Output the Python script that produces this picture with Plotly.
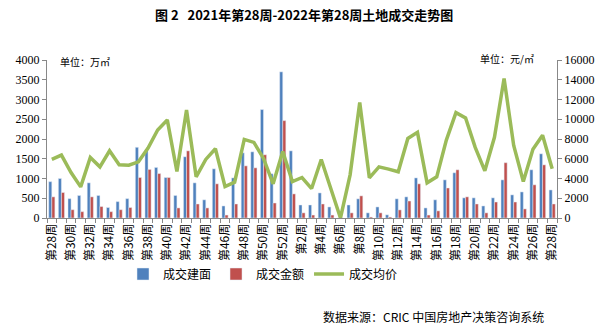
import plotly.graph_objects as go

weeks = [f"第{w}周" for w in range(28, 53)] + [f"第{w}周" for w in range(1, 29)]
area = [920, 1000, 490, 570, 890, 570, 265, 415, 490, 1790, 1735, 1280, 1025,
        570, 1550, 890, 460, 1245, 305, 1015, 1650, 1675, 2745, 1120, 3700,
        1700, 330, 330, 635, 280, 0, 330, 485, 130, 280, 80, 485, 535, 1015, 255,
        460, 965, 1145, 510, 510, 305, 510, 965, 585, 660, 1220, 1625, 710]
amount = [535, 645, 210, 160, 535, 290, 160, 210, 265, 1025, 1230, 1125, 1025,
          255, 1700, 355, 255, 865, 75, 355, 1320, 1270, 1600, 380, 2465,
          610, 130, 75, 355, 75, 0, 130, 560, 25, 130, 25, 205, 430, 865, 75,
          180, 760, 1220, 535, 355, 130, 405, 1400, 405, 230, 840, 1345, 355]
price = [5930, 6370, 4610, 3150, 6130, 5180, 6810, 5390, 5350, 5690, 7080, 8910, 9930,
         4710, 10940, 4170, 5930, 7010, 3190, 3630, 7960, 7660, 6030, 3460, 6740,
         3690, 4100, 2980, 5930, 3080, 0, 4370, 11690, 4070, 5180, 4950, 4680, 8060, 8670, 3560,
         4170, 7890, 10670, 10130, 7150, 4780, 8170, 14130, 7350, 3690, 6950, 8370, 4980]

x = list(range(len(weeks)))
tickvals = x[::2]
ticktext = weeks[::2]

cjk = "Noto Sans CJK SC"
num_font = dict(family="Liberation Serif", size=12, color="#000")

fig = go.Figure()
fig.add_trace(go.Bar(x=x, y=area, name="成交建面", marker_color="#4F81BD", yaxis="y"))
fig.add_trace(go.Bar(x=x, y=amount, name="成交金额", marker_color="#C0504D", yaxis="y"))
fig.add_trace(go.Scatter(x=x, y=price, name="成交均价", mode="lines",
                         line=dict(color="#9BBB59", width=3.5), yaxis="y2"))

W, H = 607, 327
l, r, t, b = 47, 50, 60, 109
pw, ph = W - l - r, H - t - b

fig.update_layout(
    width=W, height=H,
    margin=dict(l=l, r=r, t=t, b=b),
    paper_bgcolor="white", plot_bgcolor="white",
    barmode="group", bargap=0.36, bargroupgap=0.0,
    font=dict(family=cjk, size=12, color="#000"),
    showlegend=True,
    legend=dict(orientation="h", x=(263 - l) / pw, xanchor="center", y=(218 - 274) / ph,
                yanchor="middle", font=dict(family=cjk, size=12), traceorder="normal",
                tracegroupgap=0),
    xaxis=dict(range=[-0.5, len(weeks) - 0.5], tickvals=tickvals, ticktext=ticktext,
               tickangle=-90, ticks="", showline=True, linecolor="#888", linewidth=1,
               showgrid=False, zeroline=False, tickfont=dict(family=cjk, size=12),
               minor=dict(tickvals=[i - 0.5 for i in range(len(weeks) + 1)],
                          ticks="outside", ticklen=4, tickcolor="#888", showgrid=False)),
    yaxis=dict(range=[0, 4000], dtick=500, showline=True, linecolor="#888", linewidth=1,
               ticks="outside", ticklen=4, tickcolor="#888", showgrid=False, zeroline=False,
               tickfont=num_font, tickformat="d"),
    yaxis2=dict(range=[0, 16000], dtick=2000, overlaying="y", side="right",
                showline=True, linecolor="#888", linewidth=1, ticks="outside", ticklen=4,
                tickcolor="#888", showgrid=False, zeroline=False, tickfont=num_font,
                tickformat="d"),
)

def ann(text, px, py, anchor="center", size=12):
    xp = (px - l) / pw
    yp = (H - b - py) / ph
    return dict(text=text, x=xp, y=yp, xref="paper", yref="paper", showarrow=False,
                xanchor=anchor, yanchor="middle", font=dict(family=cjk, size=size))

fig.update_layout(annotations=[
    ann("<b>图 2   2021年第28周-2022年第28周土地成交走势图</b>", W / 2, 14, size=13),
    ann("单位：万㎡", 58, 61, "left", 10),
    ann("单位：元/㎡", 536, 59, "right", 10),
    ann("数据来源：CRIC 中国房地产决策咨询系统", 546, 316, "right", 12),
])

fig.write_html("out.html")
